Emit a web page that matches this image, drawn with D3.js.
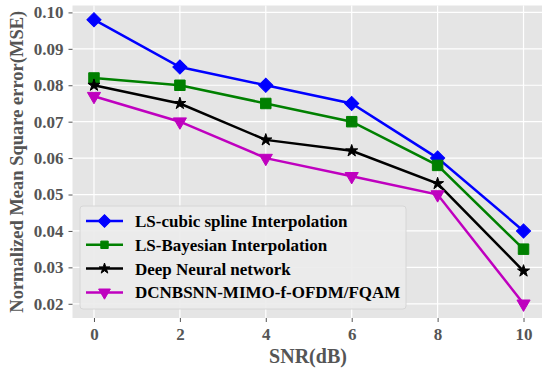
<!DOCTYPE html>
<html>
<head>
<meta charset="utf-8">
<script src="https://cdn.jsdelivr.net/npm/d3@7"></script>
<style>
  body { margin: 0; background: #fff; }
  svg { display: block; }
</style>
</head>
<body>
<svg id="chart" width="542" height="371"></svg>
<script>
// data
const snr = [0, 2, 4, 6, 8, 10];
const cubicSpline = [0.098, 0.085, 0.080, 0.075, 0.060, 0.040];
const bayesian = [0.082, 0.080, 0.075, 0.070, 0.058, 0.035];
const deepNN = [0.080, 0.075, 0.065, 0.062, 0.053, 0.029];
const proposed = [0.077, 0.070, 0.060, 0.055, 0.050, 0.020];
const seriesNames = ["LS-cubic spline Interpolation", "LS-Bayesian Interpolation", "Deep Neural network", "DCNBSNN-MIMO-f-OFDM/FQAM"];
const xTicks = [0, 2, 4, 6, 8, 10];
const yTicks = [0.02, 0.03, 0.04, 0.05, 0.06, 0.07, 0.08, 0.09, 0.10];

const series = [
    { name: seriesNames[0], values: cubicSpline, color: "#0000ff", marker: "diamond" },
    { name: seriesNames[1], values: bayesian, color: "#008000", marker: "square" },
    { name: seriesNames[2], values: deepNN, color: "#000000", marker: "star" },
    { name: seriesNames[3], values: proposed, color: "#bf00bf", marker: "tri" }
];

const svg = d3.select("#chart");
const font = "'Liberation Serif', 'Times New Roman', serif";

// plot area (right side runs off the picture like the original)
const plotLeft = 72.5, plotTop = 5.5, plotRight = 545, plotBottom = 318;

const x = d3.scaleLinear().domain([-0.5, 10.5]).range([plotLeft, plotRight]);
const y = d3.scaleLinear().domain([0.0161, 0.1019]).range([plotBottom, plotTop]);

svg.append("rect")
    .attr("x", plotLeft).attr("y", plotTop)
    .attr("width", plotRight - plotLeft).attr("height", plotBottom - plotTop)
    .attr("fill", "#e5e5e5");

// grid
const grid = svg.append("g");
grid.selectAll(".gx").data(xTicks).enter().append("line")
    .attr("x1", d => x(d)).attr("x2", d => x(d))
    .attr("y1", plotTop).attr("y2", plotBottom)
    .attr("stroke", "#fff").attr("stroke-width", 1.2);
grid.selectAll(".gy").data(yTicks).enter().append("line")
    .attr("x1", plotLeft).attr("x2", plotRight)
    .attr("y1", d => y(d)).attr("y2", d => y(d))
    .attr("stroke", "#fff").attr("stroke-width", 1.2);

// axes
const xAxis = d3.axisBottom(x).tickValues(xTicks).tickSize(4).tickPadding(6).tickFormat(d3.format("d"));
const yAxis = d3.axisLeft(y).tickValues(yTicks).tickSize(4).tickPadding(5).tickFormat(d3.format(".2f"));

const gx = svg.append("g").attr("transform", `translate(0,${plotBottom})`).call(xAxis);
const gy = svg.append("g").attr("transform", `translate(${plotLeft},0)`).call(yAxis);
[gx, gy].forEach(g => {
    g.select(".domain").remove();
    g.selectAll(".tick line").attr("stroke", "#555").attr("stroke-width", 1);
    g.selectAll(".tick text")
        .attr("fill", "#555")
        .style("font-family", font)
        .style("font-weight", "bold")
        .style("font-size", "17px");
});

svg.append("text")
    .attr("x", 308)
    .attr("y", 363)
    .attr("text-anchor", "middle")
    .attr("fill", "#555")
    .style("font-family", font).style("font-weight", "bold").style("font-size", "20px")
    .text("SNR(dB)");

svg.append("text")
    .attr("transform", `translate(23,${(plotTop + plotBottom) / 2}) rotate(-90)`)
    .attr("text-anchor", "middle")
    .attr("fill", "#555")
    .style("font-family", font).style("font-weight", "bold").style("font-size", "18.5px")
    .text("Normalized Mean Square error(MSE)");

// markers
const markerPath = {
    diamond: d3.symbol(d3.symbolSquare, 100)(),
    square: d3.symbol(d3.symbolSquare, 110)(),
    star: d3.symbol(d3.symbolStar, 45)(),
    tri: d3.symbol(d3.symbolTriangle, 75)()
};
const legendMarkerPath = {
    diamond: d3.symbol(d3.symbolSquare, 80)(),
    square: d3.symbol(d3.symbolSquare, 55)(),
    star: d3.symbol(d3.symbolStar, 35)(),
    tri: d3.symbol(d3.symbolTriangle, 60)()
};
const markerRotate = { diamond: 45, square: 0, star: 0, tri: 180 };

function drawMarker(g, s, cx, cy, paths) {
    g.append("path")
        .attr("d", paths[s.marker])
        .attr("transform", `translate(${cx},${cy}) rotate(${markerRotate[s.marker]})`)
        .attr("fill", s.color)
        .attr("stroke", s.color)
        .attr("stroke-width", 1);
}

const line = d3.line()
    .x((d, i) => x(snr[i]))
    .y(d => y(d));

series.forEach(s => {
    const g = svg.append("g");
    g.append("path")
        .attr("d", line(s.values))
        .attr("fill", "none")
        .attr("stroke", s.color)
        .attr("stroke-width", 2.5);
    s.values.forEach((v, i) => drawMarker(g, s, x(snr[i]), y(v), markerPath));
});

// legend
const legend = svg.append("g").attr("transform", "translate(80,206)");
legend.append("rect")
    .attr("width", 326).attr("height", 103)
    .attr("rx", 3)
    .attr("fill", "#ebebeb")
    .attr("fill-opacity", 0.9)
    .attr("stroke", "#d6d6d6");

const rows = legend.selectAll(".row").data(series).enter().append("g")
    .attr("transform", (d, i) => `translate(0,${15 + i * 23.8})`);
rows.append("line")
    .attr("x1", 6).attr("x2", 43)
    .attr("stroke", d => d.color).attr("stroke-width", 2.5);
rows.each(function (d) { drawMarker(d3.select(this), d, 24.5, 0, legendMarkerPath); });
rows.append("text")
    .attr("x", 55).attr("y", 6)
    .attr("fill", "#000")
    .style("font-family", font).style("font-weight", "bold").style("font-size", "17px")
    .text(d => d.name);
</script>
</body>
</html>
